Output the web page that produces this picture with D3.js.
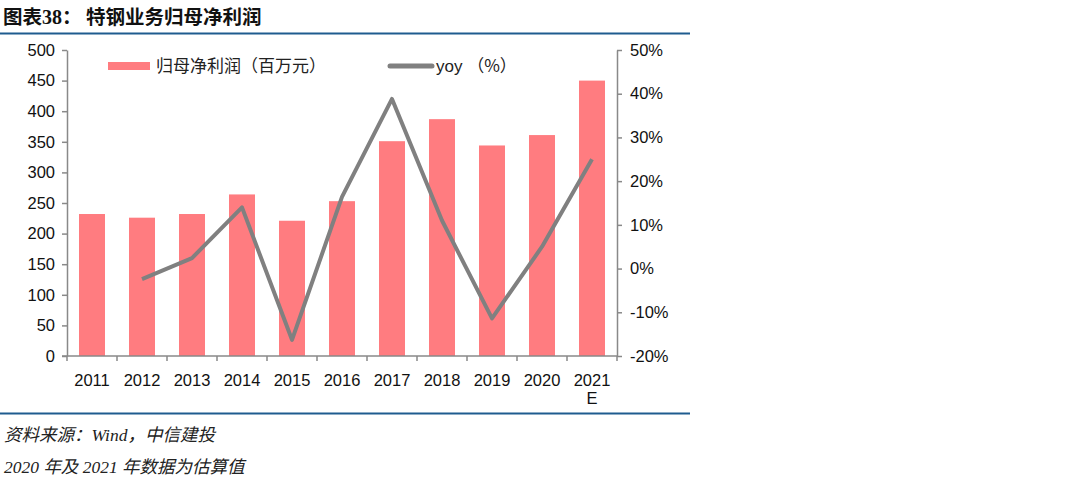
<!DOCTYPE html>
<html><head><meta charset="utf-8">
<script src="https://cdn.jsdelivr.net/npm/d3@7"></script>
<style>body{margin:0;background:#fff;}svg{display:block;}</style>
</head><body>
<svg id="c" width="1080" height="482"></svg>
<script>
const categories = ["2011","2012","2013","2014","2015","2016","2017","2018","2019","2020","2021E"];
const profit = [232,226,232,264,221,253,351,387,344,361,450];
const yoy = [null,-2.4,2.4,14,-16.3,16.4,38.8,11,-11.4,5,25];
const leftTicks = [0,50,100,150,200,250,300,350,400,450,500];
const rightTicks = [-20,-10,0,10,20,30,40,50];

const svg = d3.select("#c");
const L = 67, R = 617, T = 50, B = 356;
const axisColor = "#898989";
const font = "'Liberation Sans', Arial, sans-serif";

const title = svg.append("text").attr("x",3).attr("y",24).attr("font-size",19.5).attr("font-weight","bold")
  .attr("font-family","'Noto Sans CJK SC', sans-serif").attr("fill","#111");
title.append("tspan").text("图表");
title.append("tspan").attr("font-family","'Liberation Serif', serif").attr("font-size",20).text("38");
title.append("tspan").text("：  特钢业务归母净利润");
svg.append("line").attr("x1",0).attr("x2",690).attr("y1",33.5).attr("y2",33.5).attr("stroke","#1F5C8F").attr("stroke-width",2);
svg.append("line").attr("x1",0).attr("x2",690).attr("y1",413.5).attr("y2",413.5).attr("stroke","#1F5C8F").attr("stroke-width",2);

const x = d3.scaleBand().domain(categories).range([L,R]).paddingInner(0.48).paddingOuter(0.24);
const yL = d3.scaleLinear().domain([0,500]).range([B,T]);
const yR = d3.scaleLinear().domain([-20,50]).range([B,T]);

svg.append("g").selectAll("rect").data(profit).join("rect")
  .attr("x",(d,i)=>x(categories[i])).attr("width",x.bandwidth())
  .attr("y",d=>yL(d)).attr("height",d=>B-yL(d)).attr("fill","#FF7C80");

const lineGen = d3.line().defined(d=>d!=null)
  .x((d,i)=>x(categories[i])+x.bandwidth()/2).y(d=>yR(d));
svg.append("path").datum(yoy).attr("d",lineGen).attr("fill","none")
  .attr("stroke","#808080").attr("stroke-width",4).attr("stroke-linejoin","round");

// left axis
const gl = svg.append("g").attr("transform",`translate(${L},0)`)
  .call(d3.axisLeft(yL).tickValues(leftTicks).tickSize(5).tickPadding(7).tickSizeOuter(0));
gl.select(".domain").attr("stroke",axisColor).attr("stroke-width",1.5);
gl.selectAll(".tick line").attr("stroke",axisColor).attr("stroke-width",1.5);
gl.selectAll("text").attr("font-family",font).attr("font-size",16.5).attr("fill","#111");

// right axis
const gr = svg.append("g").attr("transform",`translate(${R},0)`)
  .call(d3.axisRight(yR).tickValues(rightTicks).tickFormat(d=>d+"%").tickSize(5).tickPadding(8).tickSizeOuter(0));
gr.select(".domain").attr("stroke",axisColor).attr("stroke-width",1.5);
gr.selectAll(".tick line").attr("stroke",axisColor).attr("stroke-width",1.5);
gr.selectAll("text").attr("font-family",font).attr("font-size",16.5).attr("fill","#111");

// bottom axis
svg.append("line").attr("x1",L-5).attr("x2",R).attr("y1",B).attr("y2",B).attr("stroke",axisColor).attr("stroke-width",1.5);
svg.append("g").selectAll("line").data(d3.range(categories.length+1)).join("line")
  .attr("x1",i=>L+i*(R-L)/categories.length).attr("x2",i=>L+i*(R-L)/categories.length)
  .attr("y1",B).attr("y2",B+5).attr("stroke",axisColor).attr("stroke-width",1.5);
const xl = svg.append("g").selectAll("text").data(categories).join("text")
  .attr("x",d=>x(d)+x.bandwidth()/2).attr("y",386).attr("text-anchor","middle")
  .attr("font-family",font).attr("font-size",16.5).attr("fill","#111");
xl.each(function(d){
  const t = d3.select(this);
  if(d.endsWith("E")){
    t.append("tspan").attr("x",x(d)+x.bandwidth()/2).text(d.slice(0,-1));
    t.append("tspan").attr("x",x(d)+x.bandwidth()/2).attr("dy",18).text("E");
  } else t.text(d);
});

// legend
svg.append("rect").attr("x",108).attr("y",62).attr("width",42).attr("height",8).attr("fill","#FF7C80");
svg.append("text").attr("x",156).attr("y",72).attr("font-family","'Noto Sans CJK SC', sans-serif").attr("font-size",17).attr("fill","#222").text("归母净利润（百万元）");
svg.append("line").attr("x1",390).attr("x2",432).attr("y1",66).attr("y2",66).attr("stroke","#808080").attr("stroke-width",5).attr("stroke-linecap","round");
const ly = svg.append("text").attr("x",436).attr("y",72).attr("font-family",font).attr("font-size",17).attr("fill","#222");
ly.append("tspan").text("yoy ");
ly.append("tspan").attr("font-family","'Noto Sans CJK SC', sans-serif").text("（%）");

// footer
const ff = "'Liberation Serif', 'Noto Sans CJK SC', serif";
svg.append("text").attr("x",4).attr("y",441).attr("font-family",ff).attr("font-style","italic").attr("font-size",17.5).attr("fill","#222").text("资料来源：Wind，中信建投");
svg.append("text").attr("x",4).attr("y",473).attr("font-family",ff).attr("font-style","italic").attr("font-size",17.5).attr("fill","#222").text("2020 年及 2021 年数据为估算值");
</script>
</body></html>
